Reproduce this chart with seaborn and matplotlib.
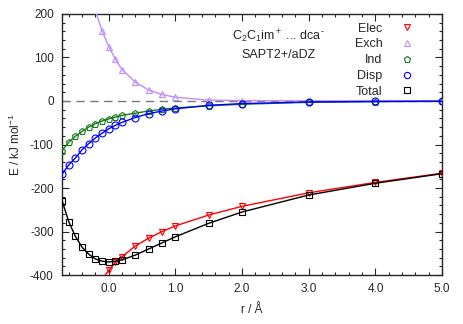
import matplotlib
matplotlib.use('Agg')
import matplotlib.pyplot as plt
from matplotlib.ticker import MultipleLocator, FormatStrFormatter
import pandas as pd
import numpy as np
import seaborn as sns

# distances (Angstrom)
r_full = [-0.7, -0.6, -0.5, -0.4, -0.3, -0.2, -0.1, 0.0, 0.1, 0.2, 0.4, 0.6, 0.8, 1.0, 1.5, 2.0, 3.0, 4.0, 5.0]
r_elec = [-0.1, 0.0, 0.1, 0.2, 0.4, 0.6, 0.8, 1.0, 1.5, 2.0, 3.0, 4.0, 5.0]
r_exch = [-0.3, -0.2, -0.1, 0.0, 0.1, 0.2, 0.4, 0.6, 0.8, 1.0, 1.5, 2.0, 3.0, 4.0, 5.0]

elec = [-410, -389, -371, -358, -333, -315, -300, -287, -262, -242, -211, -187, -166]
exch = [268, 208, 161, 125, 96, 72, 43, 25, 15, 8.5, 2, 1, 0.3, 0.1, 0.0]
ind = [-114, -95, -81, -70, -60, -52, -46, -41, -37, -33, -28, -23, -19, -16, -11, -7.5, -3, -1.5, -1]
disp = [-168, -147, -131, -112, -98, -85, -74, -64, -56, -49, -38, -29, -23, -18, -10, -6, -2.3, -1, -0.5]
total = [-229, -277, -311, -336, -352, -363, -368, -370, -368, -365, -354, -340, -326, -312, -281, -255, -216, -189, -167]

series = [
    ('Elec', r_elec, elec, '#ff0000', 'v'),
    ('Exch', r_exch, exch, '#c08cff', '^'),
    ('Ind', r_full, ind, '#157a15', 'p'),
    ('Disp', r_full, disp, '#0000ff', 'o'),
    ('Total', r_full, total, '#000000', 's'),
]

sns.set_style('ticks')
plt.rcParams['font.family'] = ['Liberation Sans', 'DejaVu Sans']
plt.rcParams['mathtext.fontset'] = 'custom'
plt.rcParams['mathtext.rm'] = 'Liberation Sans'
plt.rcParams['mathtext.it'] = 'Liberation Sans'
plt.rcParams['axes.unicode_minus'] = False

fig = plt.figure(figsize=(4.63, 3.24), dpi=100)
ax = fig.add_axes([0.134, 0.151, 0.821, 0.806])

ax.axhline(0, color='#777777', lw=1, ls=(0, (6, 4)), zorder=1)

handles = []
for name, xs, ys, col, mk in series:
    df = pd.DataFrame({'r': xs, 'E': ys})
    sns.lineplot(data=df, x='r', y='E', ax=ax, color=col, lw=1, marker=mk,
                 markersize=5, markerfacecolor='none', markeredgecolor=col,
                 markeredgewidth=0.8, zorder=3)
    h, = ax.plot([], [], ls='none', marker=mk, markersize=4.5, markerfacecolor='none',
                 markeredgecolor=col, markeredgewidth=0.8)
    handles.append(h)

ax.set_xlim(-0.7, 5.0)
ax.set_ylim(-400, 200)
ax.xaxis.set_major_locator(MultipleLocator(1.0))
ax.xaxis.set_minor_locator(MultipleLocator(0.2))
ax.yaxis.set_major_locator(MultipleLocator(100))
ax.yaxis.set_minor_locator(MultipleLocator(20))
ax.xaxis.set_major_formatter(FormatStrFormatter('%.1f'))
ax.tick_params(which='both', direction='in', top=True, right=True, labelsize=8.5, pad=6)
ax.tick_params(which='major', length=5, width=0.8)
ax.tick_params(which='minor', length=2.5, width=0.8)
for s in ax.spines.values():
    s.set_linewidth(1)

ax.set_xlabel('r / Å', fontsize=8.5, labelpad=6)
ax.set_ylabel('E / kJ mol$^{-1}$', fontsize=8.5, labelpad=5)

ax.text(0.57, 0.945, r'C$_2$C$_1$im$^+$ ... dca$^{\text{-}}$', transform=ax.transAxes,
        ha='center', va='top', fontsize=9)
ax.text(0.57, 0.865, 'SAPT2+/aDZ', transform=ax.transAxes,
        ha='center', va='top', fontsize=9)

ax.legend(handles, [s[0] for s in series], loc='upper right', frameon=False,
          markerfirst=False, fontsize=9, handlelength=1.5, handletextpad=1.2,
          labelspacing=0.3, borderaxespad=0.3, bbox_to_anchor=(0.955, 1.0))

fig.savefig('out.png', dpi=100)
